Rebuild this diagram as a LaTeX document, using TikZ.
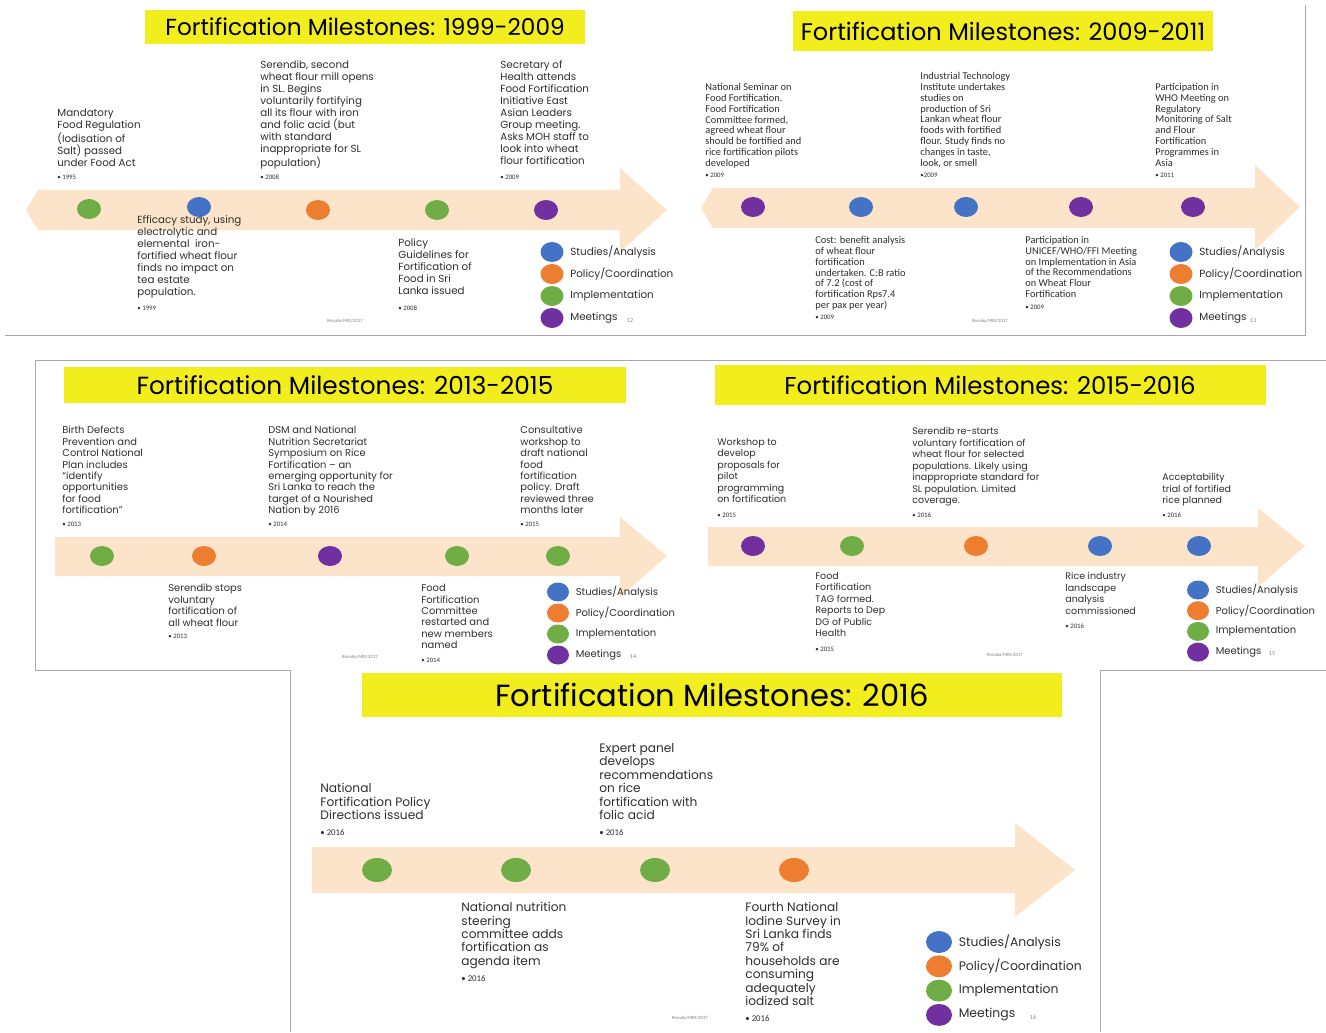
\documentclass[tikz,border=0pt]{standalone}
\usepackage{fontspec}
\setmainfont{Carlito}
\newfontfamily\popfont{Poppins}
\usetikzlibrary{shapes.geometric}
\definecolor{peach}{HTML}{FCE4CA}
\definecolor{msblue}{HTML}{4472C4}
\definecolor{msorange}{HTML}{ED7D31}
\definecolor{msgreen}{HTML}{70AD47}
\definecolor{mspurple}{HTML}{7030A0}
\definecolor{ttlyellow}{HTML}{F2EE1E}
\definecolor{ink}{HTML}{2E2E2E}
\definecolor{frame}{HTML}{A8A8A8}

\begin{document}
\begin{tikzpicture}[x=0.5pt,y=-0.5pt,
  dot/.style={ellipse,minimum width=12pt,minimum height=10pt,inner sep=0pt},
  bigdot/.style={ellipse,minimum width=15pt,minimum height=12pt,inner sep=0pt},
  title/.style={fill=ttlyellow,inner sep=0pt,text=black,font=\popfont\fontsize{12}{14}\selectfont},
  txtA/.style={anchor=north west,align=left,inner sep=0pt,text=ink,font=\popfont\fontsize{5.15}{6}\selectfont},
  txtB/.style={anchor=north west,align=left,inner sep=0pt,text=ink,font=\fontsize{5.2}{5.4}\selectfont},
  txtC/.style={anchor=north west,align=left,inner sep=0pt,text=ink,font=\popfont\fontsize{4.95}{5.7}\selectfont},
  txtD/.style={anchor=north west,align=left,inner sep=0pt,text=ink,font=\popfont\fontsize{4.75}{5.75}\selectfont},
  txtE/.style={anchor=north west,align=left,inner sep=0pt,text=ink,font=\popfont\fontsize{6.1}{6.7}\selectfont},
  yr/.style={anchor=west,inner sep=0pt,text=ink,font=\fontsize{3.4}{4}\selectfont},
  yrE/.style={anchor=west,inner sep=0pt,text=ink,font=\fontsize{4.4}{5}\selectfont},
  foot/.style={inner sep=0pt,text=gray,font=\fontsize{2.4}{3}\selectfont},
  pgno/.style={inner sep=0pt,text=gray,font=\fontsize{3}{4}\selectfont}
  ]
\useasboundingbox (0,0) rectangle (1326,1032);

\draw[frame,thin] (5,335) -- (1305,335) -- (1305,5);
\draw[frame,thin] (1326,360) -- (35,360) -- (35,670) -- (290,670) -- (290,1032);
\draw[frame,thin] (1100,1032) -- (1100,670) -- (1326,670);

% 1999-2009
\node[title,minimum width=220pt,minimum height=17pt,font=\popfont\fontsize{11.6}{14}\selectfont] (t1) at (365,27) {Fortification Milestones: 1999-2009};
\fill[peach] (38,190) -- (620,190) -- (620,168) -- (667,210) -- (620,252) -- (620,230) -- (38,230) -- (26,210) -- cycle;
\node[dot,fill=msgreen] (d1a) at (89,209) {};
\node[dot,fill=msblue] (d1b) at (199,207) {};
\node[dot,fill=msorange] (d1c) at (318,210) {};
\node[dot,fill=msgreen] (d1d) at (437,210) {};
\node[dot,fill=mspurple] (d1e) at (546,210) {};
\node[txtA] (e1a) at (57,108) {Mandatory\\Food Regulation\\(Iodisation of\\Salt) passed\\under Food Act};
\node[yr] (y1a) at (57,177) {• 1995};
\node[txtA] (e1b) at (260,60) {Serendib, second\\wheat flour mill opens\\in SL. Begins\\voluntarily fortifying\\all its flour with iron\\and folic acid (but\\with standard\\inappropriate for SL\\population)};
\node[yr] (y1b) at (260,177) {• 2008};
\node[txtA] (e1c) at (500,60) {Secretary of\\Health attends\\Food Fortification\\Initiative East\\Asian Leaders\\Group meeting.\\Asks MOH staff to\\look into wheat\\flour fortification};
\node[yr] (y1c) at (500,177) {• 2009};
\node[txtA] (e1d) at (137,215) {Efficacy study, using\\electrolytic and\\elemental\ \ iron-\\fortified wheat flour\\finds no impact on\\tea estate\\population.};
\node[yr] (y1d) at (137,308) {• 1999};
\node[txtA] (e1e) at (398,238) {Policy\\Guidelines for\\Fortification of\\Food in Sri\\Lanka issued};
\node[yr] (y1e) at (398,308) {• 2008};
\node[foot] (f1) at (345,321) {Renuka/MRI/2017};
\node[pgno] (p1) at (630,321) {12};

% 2009-2011
\node[title,minimum width=210pt,minimum height=20pt] (t2) at (1003,31) {Fortification Milestones: 2009-2011};
\fill[peach] (713,188) -- (1255,188) -- (1255,165) -- (1300,207) -- (1255,250) -- (1255,228) -- (713,228) -- (701,208) -- cycle;
\node[dot,fill=mspurple] (d2a) at (753,207) {};
\node[dot,fill=msblue] (d2b) at (861,207) {};
\node[dot,fill=msblue] (d2c) at (966,207) {};
\node[dot,fill=mspurple] (d2d) at (1081,207) {};
\node[dot,fill=mspurple] (d2e) at (1193,207) {};
\node[txtB] (e2a) at (705,83) {National Seminar on\\Food Fortification.\\Food Fortification\\Committee formed,\\agreed wheat flour\\should be fortified and\\rice fortification pilots\\developed};
\node[yr] (y2a) at (705,175) {• 2009};
\node[txtB] (e2b) at (920,72) {Industrial Technology\\Institute undertakes\\studies on\\production of Sri\\Lankan wheat flour\\foods with fortified\\flour. Study finds no\\changes in taste,\\look, or smell};
\node[yr] (y2b) at (920,175) {•2009};
\node[txtB] (e2c) at (1155,83) {Participation in\\WHO Meeting on\\Regulatory\\Monitoring of Salt\\and Flour\\Fortification\\Programmes in\\Asia};
\node[yr] (y2c) at (1155,175) {• 2011};
\node[txtB] (e2d) at (815,236) {Cost: benefit analysis\\of wheat flour\\fortification\\undertaken. C:B ratio\\of 7.2 (cost of\\fortification Rps7.4\\per pax per year)};
\node[yr] (y2d) at (815,317) {• 2009};
\node[txtB] (e2e) at (1025,236) {Participation in\\UNICEF/WHO/FFI Meeting\\on Implementation in Asia\\of the Recommendations\\on Wheat Flour\\Fortification};
\node[yr] (y2e) at (1025,307) {• 2009};
\node[foot] (f2) at (990,321) {Renuka/MRI/2017};
\node[pgno] (p2) at (1253,321) {13};

% 2013-2015
\node[title,minimum width=281pt,minimum height=18pt,font=\popfont\fontsize{12.4}{14}\selectfont] (t3) at (345,385) {Fortification Milestones: 2013-2015};
\fill[peach] (55,537) -- (620,537) -- (620,517) -- (667,556) -- (620,597) -- (620,576) -- (55,576) -- cycle;
\node[dot,fill=msgreen] (d3a) at (102,556) {};
\node[dot,fill=msorange] (d3b) at (204,556) {};
\node[dot,fill=mspurple] (d3c) at (330,556) {};
\node[dot,fill=msgreen] (d3d) at (457,556) {};
\node[dot,fill=msgreen] (d3e) at (558,556) {};
\node[txtC] (e3a) at (62,426) {Birth Defects\\Prevention and\\Control National\\Plan includes\\“identify\\opportunities\\for food\\fortification”};
\node[yr] (y3a) at (62,524) {• 2013};
\node[txtC] (e3b) at (268,426) {DSM and National\\Nutrition Secretariat\\Symposium on Rice\\Fortification – an\\emerging opportunity for\\Sri Lanka to reach the\\target of a Nourished\\Nation by 2016};
\node[yr] (y3b) at (268,524) {• 2014};
\node[txtC] (e3c) at (520,426) {Consultative\\workshop to\\draft national\\food\\fortification\\policy. Draft\\reviewed three\\months later};
\node[yr] (y3c) at (520,524) {• 2015};
\node[txtC] (e3d) at (168,584) {Serendib stops\\voluntary\\fortification of\\all wheat flour};
\node[yr] (y3d) at (168,636) {• 2013};
\node[txtC] (e3e) at (421,584) {Food\\Fortification\\Committee\\restarted and\\new members\\named};
\node[yr] (y3e) at (421,660) {• 2014};
\node[foot] (f3) at (360,657) {Renuka/MRI/2017};
\node[pgno] (p3) at (633,657) {14};

% 2015-2016
\node[title,minimum width=275.5pt,minimum height=20pt,font=\popfont\fontsize{12.2}{14}\selectfont] (t4) at (990,385) {Fortification Milestones: 2015-2016};
\fill[peach] (708,527) -- (1258,527) -- (1258,508) -- (1305,546) -- (1258,587) -- (1258,566) -- (708,566) -- cycle;
\node[dot,fill=mspurple] (d4a) at (753,546) {};
\node[dot,fill=msgreen] (d4b) at (852,546) {};
\node[dot,fill=msorange] (d4c) at (976,546) {};
\node[dot,fill=msblue] (d4d) at (1100,546) {};
\node[dot,fill=msblue] (d4e) at (1199,546) {};
\node[txtD] (e4a) at (717,438) {Workshop to\\develop\\proposals for\\pilot\\programming\\on fortification};
\node[yr] (y4a) at (717,515) {• 2015};
\node[txtD] (e4b) at (912,427) {Serendib re-starts\\voluntary fortification of\\wheat flour for selected\\populations. Likely using\\inappropriate standard for\\SL population. Limited\\coverage.};
\node[yr] (y4b) at (912,515) {• 2016};
\node[txtD] (e4c) at (1162,473) {Acceptability\\trial of fortified\\rice planned};
\node[yr] (y4c) at (1162,515) {• 2016};
\node[txtD] (e4d) at (815,572) {Food\\Fortification\\TAG formed.\\Reports to Dep\\DG of Public\\Health};
\node[yr] (y4d) at (815,649) {• 2015};
\node[txtD] (e4e) at (1065,572) {Rice industry\\landscape\\analysis\\commissioned};
\node[yr] (y4e) at (1065,626) {• 2016};
\node[foot] (f4) at (1005,655) {Renuka/MRI/2017};
\node[pgno] (p4) at (1272,654) {15};

% 2016
\node[title,minimum width=350pt,minimum height=22pt,font=\popfont\fontsize{15.3}{17}\selectfont] (t5) at (712,695) {Fortification Milestones: 2016};
\fill[peach] (312,847) -- (1015,847) -- (1015,823) -- (1075,870) -- (1015,917) -- (1015,893) -- (312,893) -- cycle;
\node[bigdot,fill=msgreen] (d5a) at (377,870) {};
\node[bigdot,fill=msgreen] (d5b) at (516,870) {};
\node[bigdot,fill=msgreen] (d5c) at (655,870) {};
\node[bigdot,fill=msorange] (d5d) at (794,870) {};
\node[txtE] (e5a) at (320,783) {National\\Fortification Policy\\Directions issued};
\node[yrE] (y5a) at (320,833) {• 2016};
\node[txtE] (e5b) at (599,743) {Expert panel\\develops\\recommendations\\on rice\\fortification with\\folic acid};
\node[yrE] (y5b) at (599,833) {• 2016};
\node[txtE] (e5c) at (461,902) {National nutrition\\steering\\committee adds\\fortification as\\agenda item};
\node[yrE] (y5c) at (461,979) {• 2016};
\node[txtE] (e5d) at (745,902) {Fourth National\\Iodine Survey in\\Sri Lanka finds\\79\% of\\households are\\consuming\\adequately\\iodized salt};
\node[yrE] (y5d) at (745,1019) {• 2016};
\node[foot] (f5) at (690,1018) {Renuka/MRI/2017};
\node[pgno] (p5) at (1033,1017) {16};

% legends
\foreach \lx/\ly/\dy/\w/\h/\fs in {552/252/22/11.5/10/5.2, 1181/252/22/11.5/10/5.2, 558/592/21/11/9.5/5, 1198/590/20.7/11/9.5/5, 939/942/24.3/13/11/6.2}{
  \foreach \c [count=\k from 0] in {msblue,msorange,msgreen,mspurple}{
    \node[ellipse,inner sep=0pt,minimum width=\w pt,minimum height=\h pt,fill=\c] (lg-\lx-\k) at (\lx,\ly+\k*\dy) {};
    \node[anchor=west,inner sep=0pt,text=ink,font=\popfont\fontsize{\fs}{\fs}\selectfont] (lt-\lx-\k) at ([xshift=3pt]lg-\lx-\k.east)
      {\ifcase\k Studies/Analysis\or Policy/Coordination\or Implementation\or Meetings\fi};
  }
}

\end{tikzpicture}
\end{document}
